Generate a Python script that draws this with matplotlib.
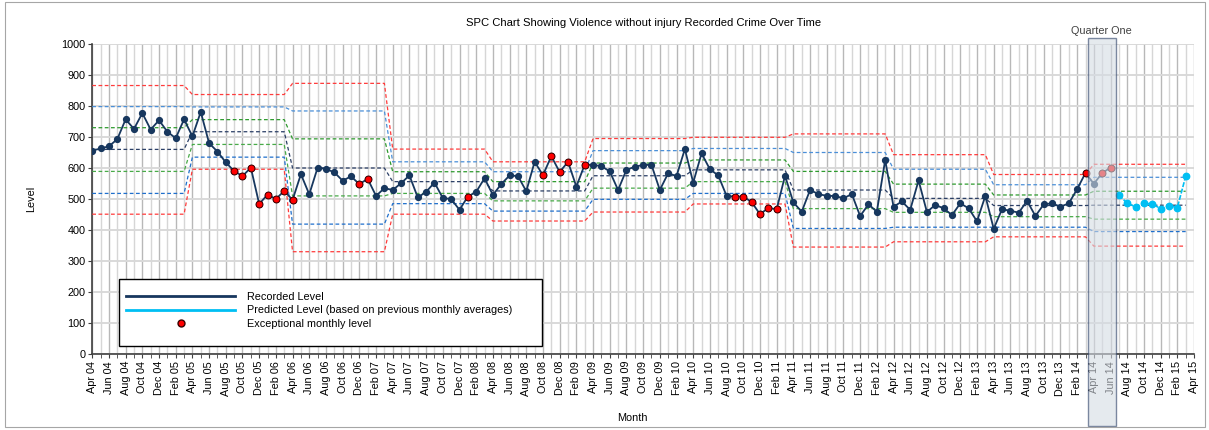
import numpy as np
import pandas as pd
import matplotlib
matplotlib.use("Agg")
import matplotlib.pyplot as plt
from matplotlib.patches import Rectangle
from matplotlib.lines import Line2D

plt.rcParams['font.family'] = ['Liberation Sans', 'DejaVu Sans']

# monthly categories Apr 04 .. Apr 15
months = pd.date_range('2004-04-01', periods=133, freq='MS').strftime('%b %y').tolist()

# recorded level Apr 04 .. Jun 14
recorded = [656, 663, 670, 693, 757, 726, 777, 724, 754, 717, 696, 757,
            702, 781, 680, 653, 618, 590, 574, 601, 484, 514, 500, 526,
            497, 580, 515, 601, 597, 586, 559, 573, 548, 565, 510, 535,
            529, 551, 576, 505, 523, 553, 503, 500, 465, 508, 523, 567,
            513, 548, 576, 574, 525, 620, 577, 638, 587, 620, 540, 611,
            610, 606, 589, 529, 594, 604, 610, 610, 529, 583, 574, 661,
            553, 647, 596, 576, 510, 508, 508, 490, 451, 471, 467, 575,
            489, 459, 529, 516, 510, 510, 502, 516, 445, 483, 459, 626,
            475, 492, 465, 560, 458, 481, 470, 448, 486, 470, 428, 510,
            404, 467, 462, 456, 494, 445, 483, 486, 475, 486, 532, 584,
            549, 584, 601]
# months flagged as exceptional (index into months)
exceptional = [17, 18, 19, 20, 21, 22, 23, 24, 32, 33, 45, 54, 55, 56, 57, 59,
               77, 78, 79, 80, 81, 82, 119, 121, 122]
# predicted level Jul 14 .. Mar 15
predicted = [513, 486, 475, 486, 484, 469, 479, 472, 573]

# control lines per financial year (Apr-Mar), 2004/05 .. 2014/15
mean_level = [660, 717, 600, 556, 526, 575, 594, 529, 502, 479, 480]
upper_1 = [730, 756, 694, 588, 556, 616, 626, 589, 548, 513, 525]
upper_2 = [798, 797, 784, 620, 588, 656, 663, 650, 596, 546, 570]
upper_3 = [866, 837, 873, 661, 620, 695, 699, 710, 643, 579, 612]
lower_1 = [589, 676, 510, 518, 494, 535, 556, 469, 457, 443, 435]
lower_2 = [518, 635, 419, 485, 461, 499, 518, 405, 409, 409, 395]
lower_3 = [451, 596, 330, 451, 429, 458, 484, 345, 362, 378, 348]

fig = plt.figure(figsize=(12.09, 4.30), dpi=100)
ax = fig.add_axes([0.0763, 0.1767, 0.9113, 0.7210])

n_ctrl = 12 * len(mean_level)
xc = np.arange(n_ctrl)
lines = [(upper_3, '#FF3B3B'), (upper_2, '#4A8FD8'), (upper_1, '#2E9A2E'),
         (mean_level, '#2B3F66'),
         (lower_1, '#48AA48'), (lower_2, '#1F6FCC'), (lower_3, '#FF3B3B')]
for vals, col in lines:
    ax.plot(xc, np.repeat(vals, 12), color=col, lw=0.9, ls=(0, (3, 2)), zorder=3)

xr = np.arange(len(recorded))
ax.plot(xr, recorded, color='#17375E', lw=1.3, marker='o', ms=4.2,
        mec='#17375E', mfc='#17375E', zorder=5)
ax.plot(exceptional, [recorded[i] for i in exceptional], ls='none', marker='o',
        ms=5.0, mfc='#FF0000', mec='#3A0000', mew=0.7, zorder=6)

xp = np.arange(len(recorded), len(recorded) + len(predicted))
ax.plot(xp, predicted, color='#00BFF3', lw=1.2, ls=(0, (3, 1)), marker='o',
        ms=4.6, mfc='#00BFF3', mec='#00BFF3', zorder=5)

# axes, grid
ax.set_xlim(0, 132)
ax.set_ylim(0, 1000)
ax.set_yticks(range(0, 1001, 100))
ax.set_xticks(range(0, 133, 2))
ax.set_xticklabels(months[::2], rotation=90, fontsize=7.8)
ax.set_xticks(range(1, 133, 2), minor=True)
ax.tick_params(axis='y', labelsize=7.8, length=3, color='#404040', pad=2)
ax.tick_params(axis='x', which='both', length=3, color='#404040', pad=2)
ax.grid(axis='y', color='#D9D9D9', lw=1.4, zorder=0)
ax.grid(axis='x', which='major', color='#B8B8B8', lw=1.0, zorder=0)
ax.grid(axis='x', which='minor', color='#D6D6D6', lw=1.0, zorder=0)
ax.set_axisbelow(True)
for s in ['top', 'right']:
    ax.spines[s].set_visible(False)
for s in ['left', 'bottom']:
    ax.spines[s].set_color('#404040')
    ax.spines[s].set_linewidth(1.2)

ax.set_title('SPC Chart Showing Violence without injury Recorded Crime Over Time',
             fontsize=8.1, pad=13)
ax.set_ylabel('Level', fontsize=7.8, labelpad=18)
ax.set_xlabel('Month', fontsize=7.8, labelpad=10)
ax.xaxis.set_label_coords(0.49, -0.19)

# quarter one highlight
q = Rectangle((119.25, -0.232), 3.35, 1.251, transform=ax.get_xaxis_transform(),
              facecolor='#D5DCE4', alpha=0.6, edgecolor='#2B3F66', lw=1.0,
              clip_on=False, zorder=8)
ax.add_patch(q)
ax.text(120.9, 1.042, 'Quarter One', transform=ax.get_xaxis_transform(),
        ha='center', va='center', fontsize=7.8, color='#404040')

# legend box
box = Rectangle((0.0245, 0.026), 0.3835, 0.216, transform=ax.transAxes,
                facecolor='white', edgecolor='black', lw=1.0, zorder=9)
ax.add_patch(box)
handles = [Line2D([], [], color='#17375E', lw=2),
           Line2D([], [], color='#00BFF3', lw=2),
           Line2D([], [], ls='none', marker='o', ms=5, mfc='#FF0000', mec='#3A0000')]
labels = ['Recorded Level', 'Predicted Level (based on previous monthly averages)',
          'Exceptional monthly level']
leg = ax.legend(handles, labels, loc='upper left', bbox_to_anchor=(0.031, 0.2),
                frameon=False, fontsize=7.8, handlelength=10, handletextpad=1.1,
                labelspacing=0.32, borderpad=0, borderaxespad=0)
leg.set_zorder(10)

# chart border
fig.patches.append(Rectangle((0.004, 0.008), 0.993, 0.988, transform=fig.transFigure,
                             fill=False, edgecolor='#A6A6A6', lw=0.8))

fig.savefig('out.png', dpi=100)
